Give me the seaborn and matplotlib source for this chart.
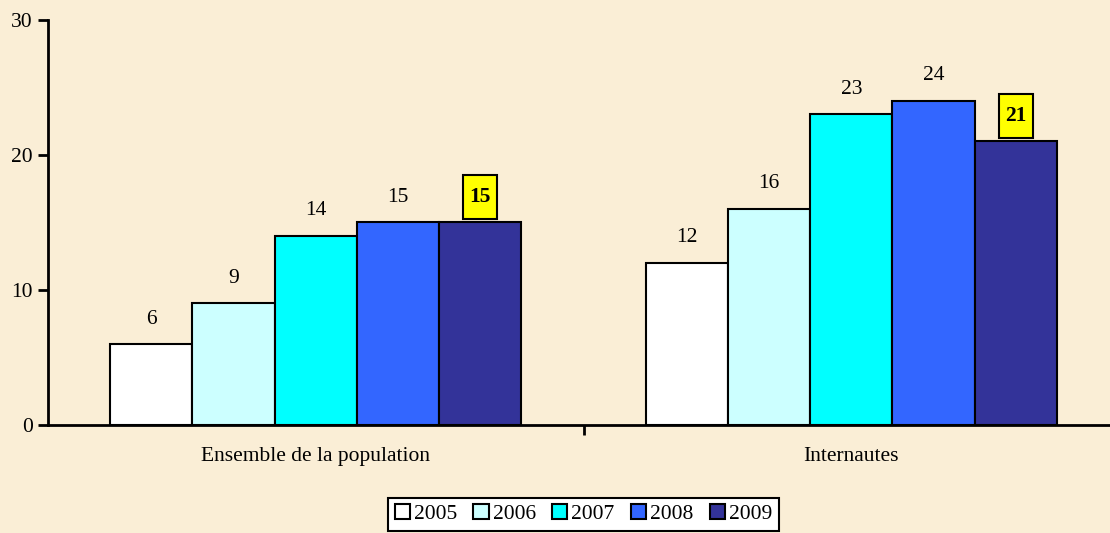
import matplotlib
matplotlib.use("Agg")
import matplotlib.pyplot as plt
from matplotlib.path import Path
import seaborn as sns
import pandas as pd

groups = ["Ensemble de la population", "Internautes"]
years = ["2005", "2006", "2007", "2008", "2009"]
values = {
    "2005": [6, 12],
    "2006": [9, 16],
    "2007": [14, 23],
    "2008": [15, 24],
    "2009": [15, 21],
}
colors = ["#FFFFFF", "#CCFFFF", "#00FFFF", "#3366FF", "#333399"]

rows = [(g, y, values[y][i]) for y in years for i, g in enumerate(groups)]
df = pd.DataFrame(rows, columns=["groupe", "annee", "valeur"])

sns.set_theme(style="white")
plt.rcParams["font.family"] = ["Liberation Serif", "DejaVu Serif"]
plt.rcParams["text.color"] = "black"
plt.rcParams["xtick.color"] = "black"
plt.rcParams["ytick.color"] = "black"

FS = 15.5
bg = "#FAEED6"
fig = plt.figure(figsize=(11.1, 5.33), dpi=100, facecolor=bg)
ax = fig.add_axes([0.0432, 0.203, 0.965, 0.76])
ax.set_facecolor(bg)

sns.barplot(data=df, x="groupe", y="valeur", hue="annee", hue_order=years,
            palette=colors, width=0.768, edgecolor="black", linewidth=1.5,
            saturation=1, ax=ax, legend=True)

ax.set_ylim(0, 30)
ax.set_xlim(-0.5, 1.5)
ax.set_yticks([0, 10, 20, 30])
ax.set_xlabel("")
ax.set_ylabel("")
ax.tick_params(axis="y", left=True, direction="out", length=7, width=2,
               labelsize=FS, pad=4, colors="black")
ax.set_xticks([0.5], minor=True)
ax.tick_params(axis="x", which="minor", bottom=True, direction="out",
               length=7, width=2, color="black")
ax.tick_params(axis="x", which="major", bottom=False, labelsize=FS, pad=10,
               labelcolor="black")

for side in ["top", "right"]:
    ax.spines[side].set_visible(False)
for side in ["left", "bottom"]:
    ax.spines[side].set_color("black")
    ax.spines[side].set_linewidth(2)


def tall_box(x0, y0, width, height, mutation_size):
    # rectangle with more vertical than horizontal padding
    px = 0.3 * mutation_size
    py = 0.55 * mutation_size
    x0, y0 = x0 - px, y0 - py
    x1, y1 = x0 + width + 2 * px, y0 + height + 2 * py
    return Path([(x0, y0), (x1, y0), (x1, y1), (x0, y1), (x0, y0)], closed=True)


for cont, y in zip(ax.containers, years):
    for rect, v in zip(cont, values[y]):
        cx = rect.get_x() + rect.get_width() / 2
        if y == "2009":
            ax.annotate(f"{v}", (cx, v), xytext=(0, 11), textcoords="offset points",
                        ha="center", va="bottom", fontsize=FS, fontweight="bold",
                        color="black",
                        bbox=dict(boxstyle=tall_box, fc="#FFFF00",
                                  ec="black", lw=1.5))
        else:
            ax.annotate(f"{v}", (cx, v), xytext=(0, 11), textcoords="offset points",
                        ha="center", va="bottom", fontsize=FS, color="black")

handles, labels = ax.get_legend_handles_labels()
leg = ax.legend(handles, labels, loc="upper center", bbox_to_anchor=(0.5, -0.153),
                ncol=5, frameon=True, fancybox=False, edgecolor="black",
                facecolor="white", fontsize=FS, handlelength=0.7, handleheight=0.7,
                handletextpad=0.2, columnspacing=0.75, borderpad=0.3,
                framealpha=1)
leg.get_frame().set_linewidth(1.5)
for t in leg.get_texts():
    t.set_color("black")

fig.savefig("out.png", dpi=100, facecolor=bg)
